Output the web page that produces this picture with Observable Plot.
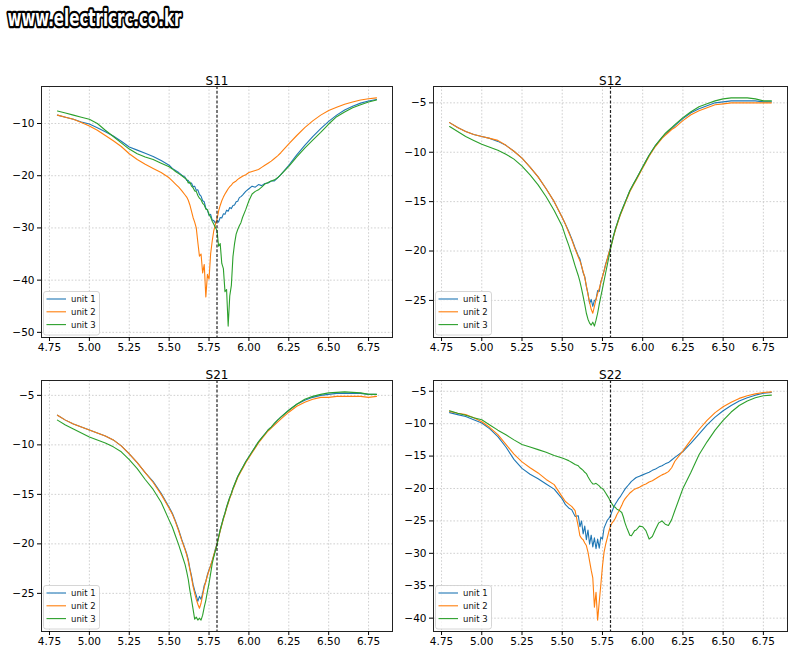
<!DOCTYPE html>
<html><head><meta charset="utf-8">
<script src="https://cdn.jsdelivr.net/npm/d3@7"></script>
<script src="https://cdn.jsdelivr.net/npm/@observablehq/plot@0.6"></script>
<style>
body{margin:0;background:#fff;}
#page{position:relative;width:800px;height:660px;overflow:hidden;font-family:"DejaVu Sans",sans-serif;background:#fff;}
</style></head><body>
<div id="page">
<svg id="wm" width="420" height="44" style="position:absolute;left:0;top:0">
<text x="7.5" y="26" text-anchor="start" textLength="174" lengthAdjust="spacingAndGlyphs" font-family="DejaVu Sans Condensed, DejaVu Sans" font-weight="bold" font-size="23" fill="#fff" stroke="#000" stroke-width="4.5" stroke-linejoin="round" paint-order="stroke">www.electricrc.co.kr</text>
</svg>
</div>
<script>
// frequency grid (GHz)
const freq = [4.80,4.85,4.90,4.95,5.00,5.05,5.10,5.15,5.20,5.25,5.30,5.35,5.40,5.45,5.50,
  5.52,5.54,5.56,5.58,
  5.60,5.61,5.62,5.63,5.64,5.65,5.66,5.67,5.68,5.69,
  5.70,5.71,5.72,5.73,5.74,5.75,5.76,5.77,5.78,5.79,
  5.80,5.81,5.82,5.83,5.84,5.85,5.86,5.87,5.88,5.89,
  5.90,5.91,5.92,5.93,5.94,5.95,
  5.96,5.98,6.00,6.02,6.04,6.06,6.08,6.10,6.12,6.14,6.16,6.18,6.20,
  6.25,6.30,6.35,6.40,6.45,6.50,6.55,6.60,6.65,6.70,6.75,6.80];

const units = ["unit 1","unit 2","unit 3"];
const titles = ["S11","S12","S21","S22"];
const xTicks = [4.75,5.00,5.25,5.50,5.75,6.00,6.25,6.50,6.75];
const markerFreq = 5.80;

// S11
const s11Unit1 = [-8.4,-8.8,-9.2,-9.7,-10.1,-10.8,-11.6,-12.4,-13.4,-14.5,-15.1,-15.7,-16.3,-17.1,-18.0,
  -18.6,-19.0,-19.4,-19.9,
  -20.3,-20.9,-20.9,-21.5,-21.4,-22.1,-22.0,-22.8,-22.7,-23.6,
  -23.9,-24.8,-25.0,-26.2,-26.6,-27.6,-27.4,-28.5,-28.6,-29.1,
  -28.5,-28.9,-28.0,-28.1,-27.3,-27.4,-26.6,-26.8,-26.1,-26.3,
  -25.7,-25.6,-25.0,-24.9,-24.2,-24.0,
  -23.7,-23.0,-22.5,-22.0,-22.2,-21.7,-21.9,-21.5,-21.4,-21.0,-21.0,-20.4,-19.8,
  -18.0,-16.0,-14.2,-12.5,-11.0,-9.6,-8.4,-7.4,-6.7,-6.1,-5.7,-5.4];
const s11Unit2 = [-8.4,-8.8,-9.2,-9.8,-10.5,-11.3,-12.3,-13.3,-14.4,-15.8,-16.9,-17.8,-18.6,-19.4,-20.4,
  -21.0,-21.6,-22.2,-22.9,
  -23.7,-24.1,-24.7,-25.6,-26.8,-28.0,-28.9,-30.0,-32.8,-35.4,
  -35.0,-38.6,-37.0,-43.2,-38.9,-39.8,-35.0,-32.5,-30.5,-29.3,
  -28.3,-26.8,-25.7,-24.8,-24.1,-23.5,-23.0,-22.5,-22.1,-21.8,
  -21.4,-21.2,-21.0,-20.7,-20.5,-20.3,
  -20.1,-19.8,-19.4,-19.2,-19.0,-18.8,-18.4,-18.0,-17.6,-17.2,-16.7,-16.2,-15.6,
  -13.9,-12.3,-10.8,-9.5,-8.4,-7.5,-6.9,-6.3,-5.9,-5.5,-5.25,-5.1];
const s11Unit3 = [-7.6,-8.0,-8.4,-8.8,-9.2,-10.0,-11.3,-12.5,-13.7,-14.9,-15.8,-16.4,-16.9,-17.6,-18.3,
  -18.7,-19.2,-19.6,-20.0,
  -20.5,-20.7,-21.4,-21.2,-22.0,-22.3,-22.9,-23.0,-23.8,-24.3,
  -24.6,-25.3,-25.6,-26.4,-26.5,-27.4,-27.9,-28.7,-29.3,-29.9,
  -30.5,-33.5,-33.0,-36.8,-37.8,-42.2,-41.8,-48.8,-43.0,-41.0,
  -35.5,-33.0,-31.2,-30.3,-29.6,-29.0,
  -28.0,-26.5,-24.8,-23.5,-23.0,-22.7,-22.2,-21.6,-21.3,-21.0,-20.8,-20.4,-19.8,
  -18.2,-16.4,-14.7,-13.2,-11.7,-10.1,-8.7,-7.8,-7.0,-6.4,-5.9,-5.5];

// S12
const s12Unit1 = [-7.0,-7.5,-7.9,-8.2,-8.4,-8.6,-8.9,-9.3,-9.9,-10.6,-11.5,-12.5,-13.7,-15.0,-16.6,
  -17.3,-18.0,-18.8,-19.7,
  -20.5,-20.8,-21.5,-22.2,-22.6,-23.6,-24.3,-25.3,-24.9,-25.6,
  -25.0,-24.9,-24.0,-24.1,-23.1,-22.6,-22.0,-21.3,-20.8,-20.2,
  -19.6,-19.0,-18.4,-17.8,-17.3,-16.8,-16.3,-15.9,-15.5,-15.1,
  -14.7,-14.3,-13.9,-13.6,-13.3,-13.0,
  -12.7,-12.1,-11.5,-10.9,-10.3,-9.8,-9.3,-8.9,-8.5,-8.2,-7.9,-7.6,-7.3,
  -6.6,-6.0,-5.6,-5.3,-5.0,-4.9,-4.8,-4.8,-4.8,-4.8,-4.9,-4.9];
const s12Unit2 = [-7.0,-7.5,-7.9,-8.2,-8.4,-8.6,-8.8,-9.3,-9.9,-10.6,-11.5,-12.5,-13.7,-15.0,-16.6,
  -17.3,-18.1,-18.9,-19.8,
  -20.6,-21.0,-21.5,-22.1,-22.7,-23.5,-24.4,-25.2,-25.9,-26.3,
  -25.6,-24.9,-24.3,-23.8,-23.2,-22.6,-22.0,-21.4,-20.8,-20.2,
  -19.7,-19.1,-18.5,-17.9,-17.4,-16.9,-16.4,-16.0,-15.6,-15.2,
  -14.8,-14.4,-14.0,-13.7,-13.4,-13.1,
  -12.8,-12.2,-11.6,-11.0,-10.4,-9.9,-9.4,-9.0,-8.6,-8.3,-8.0,-7.7,-7.5,
  -6.8,-6.2,-5.8,-5.5,-5.2,-5.1,-5.0,-5.0,-5.0,-5.0,-5.0,-5.0];
const s12Unit3 = [-7.4,-7.9,-8.4,-8.8,-9.2,-9.5,-9.8,-10.2,-10.7,-11.4,-12.3,-13.3,-14.5,-15.9,-17.5,
  -18.5,-19.4,-20.4,-21.5,
  -22.5,-23.1,-23.8,-24.6,-25.4,-26.3,-26.9,-27.3,-27.5,-27.2,
  -27.6,-27.0,-26.3,-25.4,-24.6,-23.8,-23.0,-22.2,-21.4,-20.6,
  -19.8,-19.1,-18.4,-17.8,-17.3,-16.8,-16.3,-15.9,-15.5,-15.1,
  -14.7,-14.3,-13.9,-13.6,-13.3,-13.0,
  -12.7,-12.1,-11.5,-10.9,-10.3,-9.8,-9.3,-8.9,-8.5,-8.1,-7.8,-7.5,-7.2,
  -6.5,-5.9,-5.4,-5.1,-4.8,-4.6,-4.5,-4.5,-4.5,-4.6,-4.8,-4.8];

// S21
const s21Unit1 = [-7.0,-7.5,-7.9,-8.2,-8.5,-8.8,-9.1,-9.5,-10.1,-10.9,-11.8,-12.8,-13.7,-14.9,-16.3,
  -16.9,-17.7,-18.6,-19.6,
  -20.5,-21.0,-21.6,-22.5,-23.2,-24.1,-24.7,-25.2,-25.8,-25.3,
  -25.6,-25.0,-24.2,-23.8,-23.1,-22.6,-22.2,-21.7,-21.2,-20.5,
  -20.0,-19.3,-18.6,-18.0,-17.4,-16.9,-16.3,-15.8,-15.3,-14.9,
  -14.4,-14.0,-13.6,-13.2,-12.9,-12.6,
  -12.3,-11.7,-11.2,-10.7,-10.2,-9.7,-9.3,-8.9,-8.5,-8.2,-7.9,-7.5,-7.2,
  -6.5,-5.9,-5.5,-5.2,-5.0,-4.9,-4.8,-4.8,-4.8,-4.8,-4.9,-4.9];
const s21Unit2 = [-7.0,-7.5,-7.9,-8.2,-8.5,-8.8,-9.1,-9.5,-10.1,-10.9,-11.8,-12.8,-13.8,-15.0,-16.4,
  -17.0,-17.8,-18.7,-19.7,
  -20.6,-21.1,-21.8,-22.6,-23.4,-24.3,-25.0,-25.6,-26.1,-26.5,
  -26.0,-25.2,-24.4,-23.8,-23.2,-22.7,-22.2,-21.7,-21.1,-20.6,
  -20.0,-19.4,-18.7,-18.1,-17.5,-17.0,-16.4,-15.9,-15.4,-15.0,
  -14.5,-14.1,-13.7,-13.3,-13.0,-12.7,
  -12.4,-11.8,-11.3,-10.8,-10.3,-9.8,-9.4,-9.0,-8.6,-8.3,-8.0,-7.7,-7.4,
  -6.7,-6.1,-5.7,-5.4,-5.2,-5.2,-5.1,-5.1,-5.1,-5.1,-5.2,-5.1];
const s21Unit3 = [-7.5,-8.0,-8.4,-8.8,-9.2,-9.5,-9.8,-10.2,-10.7,-11.5,-12.4,-13.5,-14.5,-15.8,-17.6,
  -18.3,-19.2,-20.1,-21.1,
  -22.1,-22.8,-23.6,-24.7,-25.6,-26.6,-27.6,-27.4,-27.7,-27.5,
  -27.7,-27.2,-26.4,-25.7,-24.8,-24.0,-23.0,-22.0,-21.3,-20.7,
  -20.1,-19.3,-18.6,-18.0,-17.4,-16.9,-16.3,-15.8,-15.3,-14.9,
  -14.4,-14.0,-13.6,-13.2,-12.9,-12.6,
  -12.3,-11.7,-11.2,-10.7,-10.2,-9.7,-9.3,-8.9,-8.5,-8.2,-7.8,-7.5,-7.2,
  -6.5,-5.9,-5.4,-5.1,-4.9,-4.75,-4.7,-4.65,-4.7,-4.75,-4.9,-4.9];

// S22
const s22Unit1 = [-8.3,-8.6,-8.9,-9.4,-9.9,-10.8,-12.0,-13.6,-15.5,-16.9,-17.8,-18.5,-19.3,-20.1,-21.6,
  -22.5,-23.0,-23.3,-24.3,
  -24.2,-25.9,-25.0,-27.0,-25.8,-27.9,-26.4,-28.6,-27.2,-29.0,
  -27.6,-29.3,-27.8,-29.2,-27.5,-27.8,-26.1,-25.5,-24.9,-24.6,
  -24.2,-23.5,-22.9,-22.4,-22.0,-21.6,-21.3,-20.9,-20.5,-20.1,
  -19.8,-19.5,-19.2,-18.9,-18.7,-18.5,
  -18.3,-18.1,-17.9,-17.7,-17.5,-17.2,-17.0,-16.7,-16.5,-16.2,-16.0,-15.6,-15.2,
  -14.3,-13.0,-11.6,-10.2,-9.0,-8.0,-7.2,-6.5,-6.0,-5.6,-5.3,-5.2];
const s22Unit2 = [-8.1,-8.4,-8.6,-9.1,-9.7,-10.6,-11.7,-13.2,-14.7,-15.9,-16.8,-17.6,-18.6,-19.4,-21.3,
  -22.0,-22.4,-22.8,-23.4,
  -25.9,-27.3,-27.7,-27.9,-28.4,-28.8,-29.8,-31.2,-32.6,-33.8,
  -38.3,-36.0,-40.3,-37.5,-34.8,-32.0,-29.8,-28.6,-27.6,-26.6,
  -25.8,-25.3,-25.0,-24.6,-24.0,-23.6,-23.1,-22.6,-22.0,-21.6,
  -21.3,-21.0,-20.7,-20.5,-20.3,-20.1,
  -20.0,-19.8,-19.5,-19.3,-19.0,-18.8,-18.5,-18.2,-17.9,-17.7,-17.4,-16.8,-15.8,
  -14.2,-12.5,-10.9,-9.5,-8.3,-7.4,-6.7,-6.1,-5.7,-5.4,-5.2,-5.1];
const s22Unit3 = [-8.0,-8.4,-8.7,-9.1,-9.4,-10.2,-11.0,-11.7,-12.5,-13.2,-13.6,-14.0,-14.4,-14.9,-15.3,
  -15.5,-15.7,-16.0,-16.3,
  -16.5,-16.8,-17.0,-17.2,-17.5,-17.7,-18.2,-18.6,-19.0,-19.3,
  -19.3,-19.2,-19.4,-19.6,-19.9,-20.0,-20.3,-20.7,-21.1,-21.5,
  -22.0,-22.4,-22.8,-22.9,-23.2,-23.3,-23.5,-23.7,-24.4,-25.3,
  -26.0,-26.6,-27.2,-27.3,-26.9,-26.5,
  -26.4,-25.8,-25.9,-26.5,-27.8,-27.4,-26.3,-25.3,-25.0,-25.5,-25.7,-24.8,-23.4,
  -20.0,-17.5,-14.8,-12.8,-11.0,-9.5,-8.2,-7.2,-6.5,-6.0,-5.7,-5.6];

const colors = ["#1f77b4","#ff7f0e","#2ca02c"];

const panels = [
  {title:titles[0], series:[s11Unit1,s11Unit2,s11Unit3], yTicks:[-50,-40,-30,-20,-10], left:0,   top:60,  ml:41, mr:8},
  {title:titles[1], series:[s12Unit1,s12Unit2,s12Unit3], yTicks:[-25,-20,-15,-10,-5],  left:400, top:60,  ml:33, mr:13},
  {title:titles[2], series:[s21Unit1,s21Unit2,s21Unit3], yTicks:[-25,-20,-15,-10,-5],  left:0,   top:354, ml:41, mr:8},
  {title:titles[3], series:[s22Unit1,s22Unit2,s22Unit3], yTicks:[-40,-35,-30,-25,-20,-15,-10,-5], left:400, top:354, ml:33, mr:13}
];

const page = document.getElementById("page");
const W = 400, H = 300, MT = 26, MB = 23;
const gridStyle = {stroke:"#c4c4c4", strokeOpacity:1, strokeDasharray:"1.6,1.8", strokeWidth:0.8};

panels.forEach(p => {
  const rows = [];
  p.series.forEach((vals, k) => {
    if (vals.length !== freq.length) console.error(p.title, k, vals.length);
    vals.forEach((v, i) => rows.push({f: freq[i], v, unit: units[k]}));
  });
  const [lo, hi] = d3.extent(rows, d => d.v);
  const pad = (hi - lo) * 0.05;
  const xs = d3.extent(freq);
  const xpad = (xs[1] - xs[0]) * 0.05;
  const chart = Plot.plot({
    width: W, height: H,
    marginLeft: p.ml, marginRight: p.mr, marginTop: MT, marginBottom: MB,
    style: {fontFamily: "'DejaVu Sans', sans-serif", fontSize: "10.5px", color: "#000", background: "transparent", overflow: "visible"},
    x: {domain: [xs[0] - xpad, xs[1] + xpad]},
    y: {domain: [lo - pad, hi + pad]},
    color: {domain: units, range: colors},
    marks: [
      Plot.gridX(xTicks, gridStyle),
      Plot.gridY(p.yTicks, gridStyle),
      ...units.map(u => Plot.line(rows.filter(d => d.unit === u), {x: "f", y: "v", stroke: "unit", strokeWidth: 1.1})),
      Plot.ruleX([markerFreq], {stroke: "#222", strokeDasharray: "3,1.8", strokeWidth: 1.2}),
      Plot.frame({stroke: "#222", strokeWidth: 1}),
      Plot.axisX(xTicks, {tickFormat: d3.format(".2f"), tickSize: 4, tickPadding: 2.5, label: null}),
      Plot.axisY(p.yTicks, {tickFormat: d3.format("d"), tickSize: 4, tickPadding: 3, label: null}),
      Plot.text([p.title], {text: d => d, frameAnchor: "top", dy: -10, fontSize: 12, fill: "#000"})
    ]
  });
  chart.style.position = "absolute";
  chart.style.left = p.left + "px";
  chart.style.top = p.top + "px";
  // legend box, lower left
  const fl = p.ml, fb = H - MB;
  const g = d3.select(chart).append("g")
    .attr("font-family", "'DejaVu Sans', sans-serif").attr("font-size", "8.5px").attr("text-anchor", "start");
  g.append("rect").attr("x", fl + 2.5).attr("y", fb - 45.5).attr("width", 56).attr("height", 43.5)
    .attr("rx", 2.5).attr("fill", "#fff").attr("fill-opacity", 0.8).attr("stroke", "#cccccc").attr("stroke-width", 0.8);
  units.forEach((u, k) => {
    const yy = fb - 38 + k * 12.8;
    g.append("line").attr("x1", fl + 5.5).attr("x2", fl + 25).attr("y1", yy).attr("y2", yy)
      .attr("stroke", colors[k]).attr("stroke-width", 1.1);
    g.append("text").attr("x", fl + 30).attr("y", yy).attr("dy", "0.35em")
      .attr("text-anchor", "start").attr("fill", "#111").text(u);
  });
  page.appendChild(chart);
});
</script>
</body></html>
